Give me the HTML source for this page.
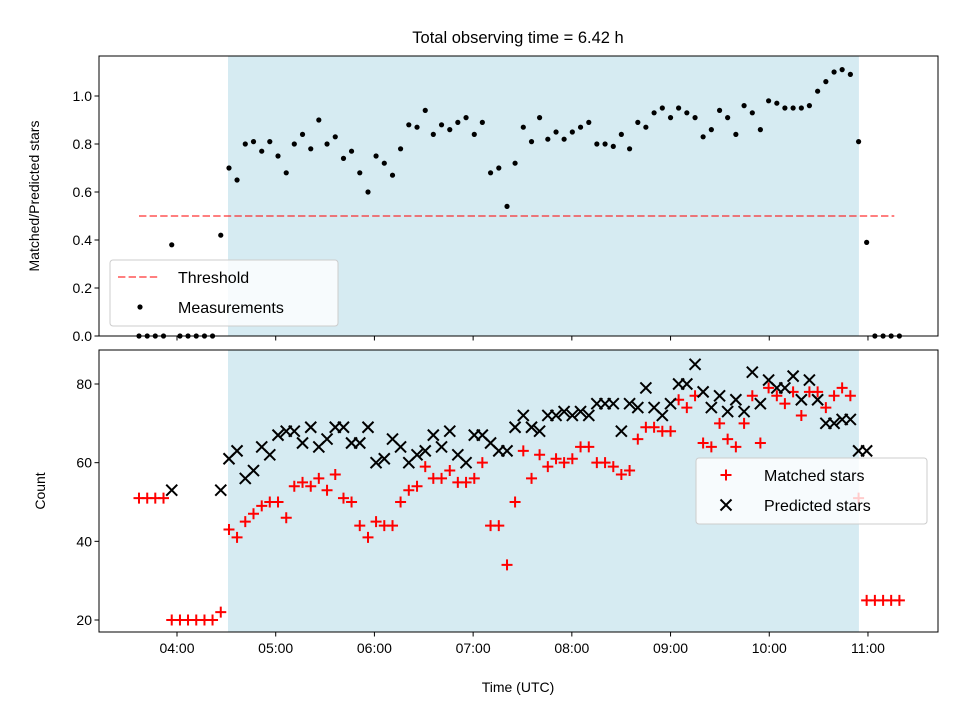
<!DOCTYPE html>
<html><head><meta charset="utf-8"><style>
body{margin:0;background:#fff;}
svg{display:block;font-family:"Liberation Sans","DejaVu Sans",sans-serif;}
</style></head><body>
<svg id="chart" width="960" height="720" viewBox="0 0 960 720">
<rect width="960" height="720" fill="#fff"/>
<g id="topPanel"></g>
<g id="botPanel"></g>
<text x="518" y="43" text-anchor="middle" font-size="16.5">Total observing time = 6.42 h</text>
<text x="518" y="692" text-anchor="middle" font-size="14">Time (UTC)</text>
<text transform="translate(39,196) rotate(-90)" text-anchor="middle" font-size="14">Matched/Predicted stars</text>
<text transform="translate(45,491) rotate(-90)" text-anchor="middle" font-size="14">Count</text>
</svg>
<script>
const times = [216.9,221.9,226.8,231.8,236.8,241.8,246.7,251.7,256.7,261.6,266.6,271.6,276.5,281.5,286.5,291.5,296.4,301.4,306.4,311.3,316.3,321.3,326.2,331.2,336.2,341.2,346.1,351.1,356.1,361.0,366.0,371.0,375.9,380.9,385.9,390.9,395.8,400.8,405.8,410.7,415.7,420.7,425.6,430.6,435.6,440.6,445.5,450.5,455.5,460.4,465.4,470.4,475.3,480.3,485.3,490.3,495.2,500.2,505.2,510.1,515.1,520.1,525.0,530.0,535.0,540.0,544.9,549.9,554.9,559.8,564.8,569.8,574.7,579.7,584.7,589.7,594.6,599.6,604.6,609.5,614.5,619.5,624.4,629.4,634.4,639.4,644.3,649.3,654.3,659.2,664.2,669.2,674.1,679.1];
const ratio = [0,0,0,0,0.38,0,0,0,0,0,0.42,0.70,0.65,0.80,0.81,0.77,0.81,0.75,0.68,0.80,0.84,0.78,0.90,0.80,0.83,0.74,0.77,0.68,0.60,0.75,0.72,0.67,0.78,0.88,0.87,0.94,0.84,0.88,0.86,0.89,0.91,0.84,0.89,0.68,0.70,0.54,0.72,0.87,0.81,0.91,0.82,0.85,0.82,0.85,0.87,0.89,0.80,0.80,0.79,0.84,0.78,0.89,0.87,0.93,0.95,0.91,0.95,0.93,0.91,0.83,0.86,0.94,0.91,0.84,0.96,0.93,0.86,0.98,0.97,0.95,0.95,0.95,0.96,1.02,1.06,1.10,1.11,1.09,0.81,0.39,0,0,0,0];
const matched = [51,51,51,51,20,20,20,20,20,20,22,43,41,45,47,49,50,50,46,54,55,54,56,53,57,51,50,44,41,45,44,44,50,53,54,59,56,56,58,55,55,56,60,44,44,34,50,63,56,62,59,61,60,61,64,64,60,60,59,57,58,66,69,69,68,68,76,74,77,65,64,70,66,64,70,77,65,79,77,75,78,72,78,78,74,77,79,77,51,25,25,25,25,25];
const predicted = [null,null,null,null,53,null,null,null,null,null,53,61,63,56,58,64,62,67,68,68,65,69,64,66,69,69,65,65,69,60,61,66,64,60,62,63,67,64,68,62,60,67,67,65,63,63,69,72,69,68,72,72,73,72,73,72,75,75,75,68,75,74,79,74,72,75,80,80,85,78,74,77,73,76,73,83,75,81,79,79,82,76,81,76,70,70,71,71,63,63,null,null,null,null];
const threshold = 0.5;
const thresholdSpan = [216.9, 676];
const shadeSpan = [271.0, 654.5];
const xTickHours = [4,5,6,7,8,9,10,11];
const xTickLabels = ["04:00","05:00","06:00","07:00","08:00","09:00","10:00","11:00"];
const topTicks = [0.0,0.2,0.4,0.6,0.8,1.0];
const topTickLabels = ["0.0","0.2","0.4","0.6","0.8","1.0"];
const botTicks = [20,40,60,80];
const botTickLabels = ["20","40","60","80"];

const NS="http://www.w3.org/2000/svg";
const L=99,R=938;
const P1={t:56,b:336}, P2={t:350,b:632};
const xs = m => 177 + (m-240)/60*98.71;
const yTop = v => 336 - v*240;
const yBot = c => 620 - (c-20)*3.9333;
function mk(tag,attrs,parent){const e=document.createElementNS(NS,tag);for(const k in attrs)e.setAttribute(k,attrs[k]);parent.appendChild(e);return e;}
const gTop=document.getElementById('topPanel'), gBot=document.getElementById('botPanel');

function frame(g,P,name){
  let s=mk('rect',{x:xs(shadeSpan[0]),y:P.t,width:xs(shadeSpan[1])-xs(shadeSpan[0]),height:P.b-P.t,fill:'#add8e6','fill-opacity':0.5},g);
  
  
}
frame(gTop,P1,'top');frame(gBot,P2,'bottom');

let th=mk('line',{x1:xs(thresholdSpan[0]),x2:xs(thresholdSpan[1]),y1:yTop(threshold),y2:yTop(threshold),stroke:'#ff0000','stroke-opacity':0.5,'stroke-width':2,'stroke-dasharray':'7.4,3.2'},gTop);



ratio.forEach((v,i)=>{
  const c=mk('circle',{cx:xs(times[i]),cy:yTop(v),r:2.6,fill:'#000'},gTop);
  
  
});
matched.forEach((v,i)=>{
  if(v==null)return;
  const x=xs(times[i]),y=yBot(v),h=5.5;
  const p=mk('path',{d:`M${x-h},${y}H${x+h}M${x},${y-h}V${y+h}`,stroke:'#ff0000','stroke-width':2,fill:'none'},gBot);
  
  
});
predicted.forEach((v,i)=>{
  if(v==null)return;
  const x=xs(times[i]),y=yBot(v),h=5.5;
  const p=mk('path',{d:`M${x-h},${y-h}L${x+h},${y+h}M${x-h},${y+h}L${x+h},${y-h}`,stroke:'#000','stroke-width':2,fill:'none'},gBot);
  
  
});

function axes(g,P,ticks,labels,yf,showX,name){
  const r=mk('rect',{x:L,y:P.t,width:R-L,height:P.b-P.t,fill:'none',stroke:'#000','stroke-width':1},g);
  
  
  ticks.forEach((t,i)=>{
    const y=yf(t);
    mk('line',{x1:L-4.5,x2:L,y1:y,y2:y,stroke:'#000'},g);
    const tx=mk('text',{x:L-7,y:y+5,'text-anchor':'end','font-size':14},g);
    tx.textContent=labels[i];
    
    
  });
  xTickHours.forEach((h,i)=>{
    const x=xs(h*60);
    mk('line',{x1:x,x2:x,y1:P.b,y2:P.b+4.5,stroke:'#000'},g);
    if(showX){
      const tx=mk('text',{x:x,y:P.b+21,'text-anchor':'middle','font-size':14},g);
      tx.textContent=xTickLabels[i];
      
      
    }
  });
}
axes(gTop,P1,topTicks,topTickLabels,yTop,false,'top');
axes(gBot,P2,botTicks,botTickLabels,yBot,true,'bottom');

function legend(g,x,y,w,h,items,name){
  const lg=mk('g',{},g);
  
  
  mk('rect',{x:x,y:y,width:w,height:h,rx:3,fill:'#fff','fill-opacity':0.8,stroke:'#cccccc'},lg);
  items.forEach((it,i)=>{
    const cy=y+17+i*30;
    it.draw(lg,x+30,cy);
    const t=mk('text',{x:x+68,y:cy+6,'font-size':16},lg);
    t.textContent=it.label;
    
    
  });
}
legend(gTop,110,260,228,66,[
  {label:'Threshold',draw:(g,cx,cy)=>mk('line',{x1:cx-22,x2:cx+20,y1:cy,y2:cy,stroke:'#ff0000','stroke-opacity':0.5,'stroke-width':2,'stroke-dasharray':'7.4,3.2'},g)},
  {label:'Measurements',draw:(g,cx,cy)=>mk('circle',{cx:cx,cy:cy,r:2.6,fill:'#000'},g)}
],'top-legend');
legend(gBot,696,458,231,66,[
  {label:'Matched stars',draw:(g,cx,cy)=>mk('path',{d:`M${cx-5.5},${cy}H${cx+5.5}M${cx},${cy-5.5}V${cy+5.5}`,stroke:'#ff0000','stroke-width':2},g)},
  {label:'Predicted stars',draw:(g,cx,cy)=>mk('path',{d:`M${cx-5.5},${cy-5.5}L${cx+5.5},${cy+5.5}M${cx-5.5},${cy+5.5}L${cx+5.5},${cy-5.5}`,stroke:'#000','stroke-width':2},g)}
],'bottom-legend');
</script>
</body></html>
